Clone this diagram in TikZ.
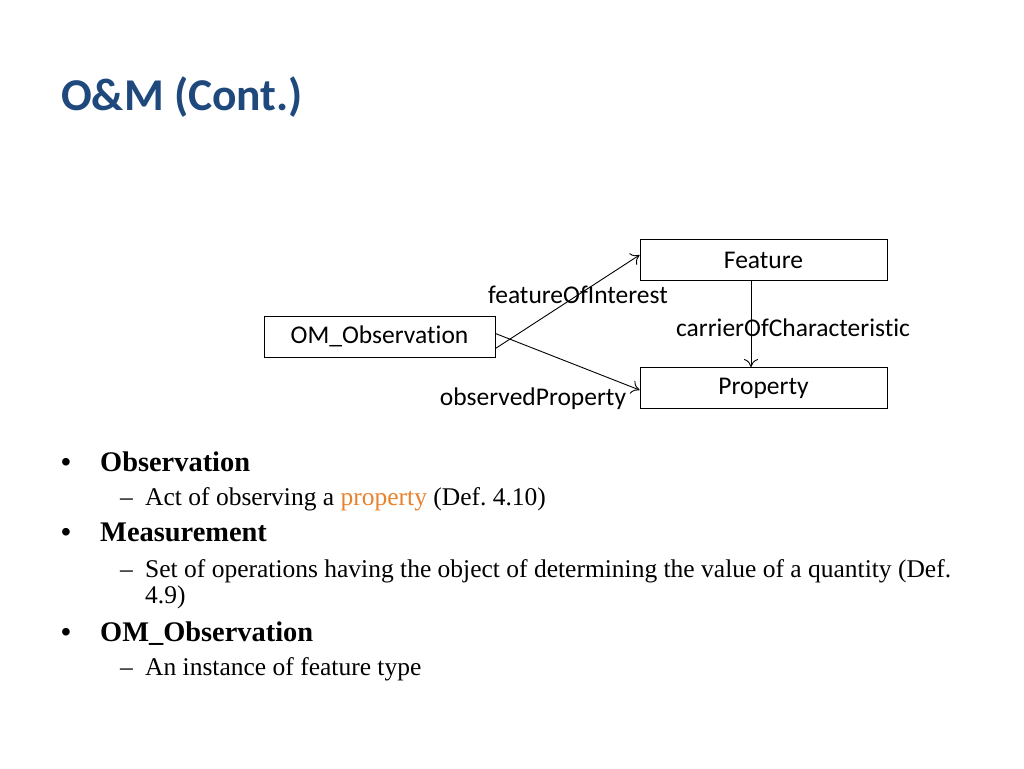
\documentclass[tikz,border=0pt]{standalone}
\usepackage{fontspec}
\setmainfont{Liberation Serif}
\newfontfamily\calib[Ligatures={NoCommon}]{Carlito}
\newfontfamily\arial{Liberation Sans}
\usetikzlibrary{arrows.meta}
\definecolor{titleblue}{HTML}{1F497D}
\definecolor{proporange}{HTML}{E9822C}
\tikzset{
  umlbox/.style={draw, line width=0.9pt, minimum height=41pt, inner sep=0pt, font=\calib\fontsize{25.5}{30}\selectfont},
  conn/.style={line width=0.9pt, -{To[length=8pt,width=14pt]}},
  lbl/.style={font=\calib\fontsize{25.5}{30}\selectfont, inner sep=0pt},
  txt/.style={anchor=base west, inner sep=0pt, font=\frenchspacing\fontsize{25.5}{30}\selectfont},
  bul/.style={anchor=base west, inner sep=0pt, font=\arial\fontsize{28}{32}\selectfont},
  head/.style={anchor=base west, inner sep=0pt, font=\bfseries\fontsize{28.4}{33}\selectfont},
}
\begin{document}
\begin{tikzpicture}[x=1pt,y=-1pt]
\useasboundingbox[fill=white] (0,0) rectangle (1024,768);
\node[anchor=base west, inner sep=0pt, text=titleblue, font=\calib\bfseries\fontsize{45.5}{50}\selectfont] (title) at (61,110) {O\&M (Cont.)};

\node[umlbox, minimum width=231pt] (obs) at (379.5,336.5) {OM\_Observation};
\node[umlbox, minimum width=247pt] (feat) at (763.5,260) {Feature};
\node[umlbox, minimum width=247pt] (prop) at (763.5,388) {Property};

\draw[conn] ([yshift=-12pt]obs.east) -- ([yshift=5pt]feat.west);
\draw[conn] ([yshift=3pt]obs.east) -- ([yshift=-2pt]prop.west);
\draw[conn] (751,281) coordinate (c1) -- (prop.north -| c1);

\node[lbl] (l1) at (578,295) {featureOfInterest};
\node[lbl] (l2) at (793,328) {carrierOfCharacteristic};
\node[lbl] (l3) at (533,399) {observedProperty};

\node[bul] (b1) at (61,471) {•};
\node[head] (h1) at (100,471) {Observation};
\node[txt] (d1) at (120,505) {–};
\node[txt] (t1) at (145,505) {Act of observing a \textcolor{proporange}{property} (Def. 4.10)};
\node[bul] (b2) at (61,541) {•};
\node[head] (h2) at (100,541) {Measurement};
\node[txt] (d2) at (120,577) {–};
\node[txt] (t2) at (145,577) {Set of operations having the object of determining the value of a quantity (Def.};
\node[txt] (t2b) at (145,603) {4.9)};
\node[bul] (b3) at (61,641) {•};
\node[head] (h3) at (100,641) {OM\_Observation};
\node[txt] (d3) at (120,675) {–};
\node[txt] (t3) at (145,675) {An instance of feature type};
\end{tikzpicture}
\end{document}
